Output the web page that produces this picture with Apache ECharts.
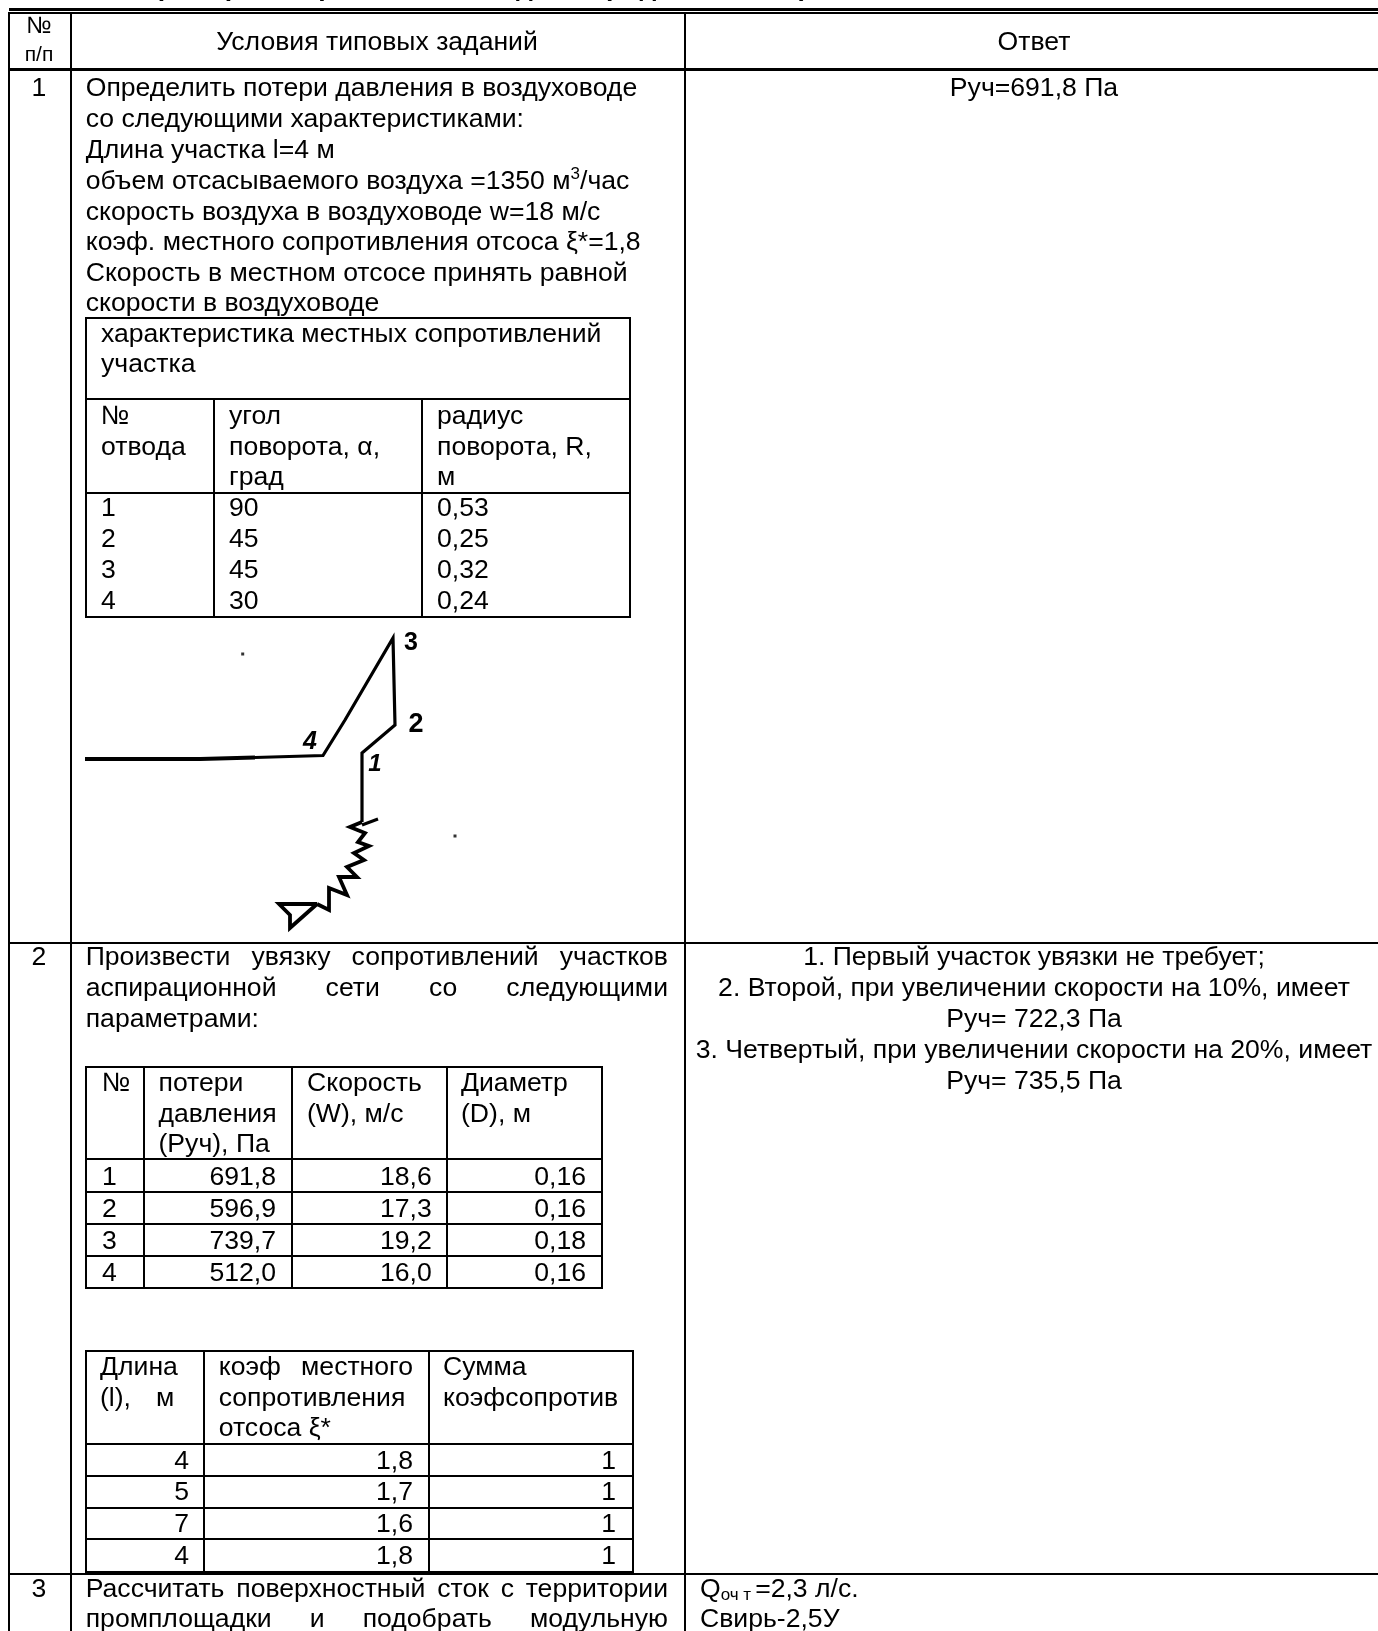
<!DOCTYPE html>
<html><head><meta charset="utf-8">
<style>html,body{margin:0;padding:0;background:#fff;overflow:hidden}#c{width:1378px;height:1631px}</style>
<script src="https://cdn.jsdelivr.net/npm/echarts@6/dist/echarts.min.js"></script>
</head><body><div id="c"></div>
<script>
// ---------- content ----------
const titleText = 'Типовые примерные практические задания (задачи, кейсы)';
const headers = ['Условия типовых заданий', 'Ответ'];
const task1Lines = ['Определить потери давления в воздуховоде','со следующими характеристиками:','Длина участка l=4 м',
  'объем отсасываемого воздуха =1350 м','скорость воздуха в воздуховоде w=18 м/с','коэф. местного сопротивления отсоса ξ*=1,8',
  'Скорость в местном отсосе принять равной','скорости в воздуховоде'];
const bendCaption = ['характеристика местных сопротивлений','участка'];
const bendHead = [['№','отвода'],['угол','поворота, α,','град'],['радиус','поворота, R,','м']];
const bendNo = ['1','2','3','4'];
const bendAngle = ['90','45','45','30'];
const bendRadius = ['0,53','0,25','0,32','0,24'];
const answer1 = 'Руч=691,8 Па';
const task2Lines = ['Произвести увязку сопротивлений участков','аспирационной сети со следующими','параметрами:'];
const lossHead = [['№'],['потери','давления','(Руч), Па'],['Скорость','(W), м/с'],['Диаметр','(D), м']];
const lossNo = ['1','2','3','4'];
const lossP = ['691,8','596,9','739,7','512,0'];
const lossW = ['18,6','17,3','19,2','16,0'];
const lossD = ['0,16','0,16','0,18','0,16'];
const coefHead2 = ['сопротивления','отсоса ξ*'];
const coefHead3 = ['Сумма','коэфсопротив'];
const coefL = ['4','5','7','4'];
const coefK = ['1,8','1,7','1,6','1,8'];
const coefS = ['1','1','1','1'];
const answer2 = ['1. Первый участок увязки не требует;','2. Второй, при увеличении скорости на 10%, имеет','Руч= 722,3 Па','3. Четвертый, при увеличении скорости на 20%, имеет','Руч= 735,5 Па'];
const task3Lines = ['Рассчитать поверхностный сток с территории','промплощадки и подобрать модульную'];
// sketch traces, in page units
const sketchDuct = [[85,759],[200,759],[255,757.5],[323,755.5],[345,720],[393,638],[395,725],[362,753],[362,822]];
const sketchSpring = [[362,822],[350,827],[365,833],[358,842],[369,846],[354,853],[364,860],[347,867],[357,877],[339,877],[347,895],[329,888],[329,910],[317,904]];
const sketchTick = [[362,825],[378,819]];
const sketchNozzle = [[317,904],[279,904],[290,915],[290,928],[317,904]];
const specks = [[242.7,654],[455,836]];

// ---------- layout ----------
const FS = 26.6, ff = '"Liberation Sans",Arial,sans-serif';
const mctx = document.createElement('canvas').getContext('2d');
const tw = (s,size,weight) => { mctx.font = (weight||'normal')+' '+size+'px '+ff; return mctx.measureText(s).width; };
const texts = [], rules = [];
const T = (x,b,s,o) => texts.push(Object.assign({x,b,s,size:FS,align:'left',weight:'normal',italic:false},o||{}));
const H = (x1,x2,y,w) => rules.push([x1,y-w/2,x2,y+w/2]);
const V = (x,y1,y2,w) => rules.push([x-w/2,y1,x+w/2,y2]);
const just = (s,x1,x2,b) => { const ws=s.split(' '); const tot=ws.reduce((a,w)=>a+tw(w,FS),0); const gap=(x2-x1-tot)/(ws.length-1); let x=x1; ws.forEach(w=>{T(x,b,w);x+=tw(w,FS)+gap;}); };
const boxGrid = (xs,ys,w) => { ys.forEach(y=>H(xs[0]-w/2,xs[xs.length-1]+w/2,y,w)); xs.forEach(x=>V(x,ys[0],ys[ys.length-1],w)); };

// outer table
const X0=9, X1=70.5, X2=684.5, XR=1378, CA=1034, CN=39, TX=85.7;
H(X0,XR,9.5,2.5); H(X0,XR,12.5,1.6);
H(X0,XR,70,3.4); H(X0,XR,943,1.9); H(X0,XR,1573.5,1.9);
[X0,X1,X2].forEach(x=>V(x,12,1631,1.9));
T(603-tw(titleText.slice(0,titleText.indexOf('(')),26.6,'bold'),-3.5,titleText,{size:26.6,weight:'bold'});
T(CN,34,'№',{align:'center',size:23.6}); T(CN,62,'п/п',{align:'center',size:21});
T(377,51,headers[0],{align:'center'}); T(CA,50.5,headers[1],{align:'center'});
T(CN,97,'1',{align:'center'});
const base1=[97,128,158.5,189.5,220.5,250.5,281.5,312];
task1Lines.forEach((s,i)=>T(TX,base1[i],s));
{ const x=TX+tw(task1Lines[3],FS); T(x,180,'3',{size:17}); T(x+tw('3',17),189.5,'/час'); }
T(CA,97,answer1,{align:'center'});
// bends table
boxGrid([86,630],[318,399],2); boxGrid([86,214,421.6,630],[399,492.7,616.7],2);
bendCaption.forEach((s,i)=>T(101,[342.7,373][i],s));
const bX=[101,229,437], bHB=[425,456,486], bB=[517,548,579,610];
bendHead.forEach((c,j)=>c.forEach((s,i)=>T(bX[j],bHB[i],s)));
[bendNo,bendAngle,bendRadius].forEach((c,j)=>c.forEach((s,i)=>T(bX[j],bB[i],s)));
// sketch labels
T(411,651,'3',{size:25,weight:'bold',align:'center'});
T(416,733,'2',{size:27,weight:'bold',align:'center'});
T(375,772,'1',{size:24,weight:'bold',italic:true,align:'center'});
T(310,750,'4',{size:25,weight:'bold',italic:true,align:'center'});
// row 2
T(CN,966,'2',{align:'center'});
const base2=[966,997,1028];
just(task2Lines[0],TX,668,base2[0]); just(task2Lines[1],TX,668,base2[1]); T(TX,base2[2],task2Lines[2]);
const aB=[966,997,1028,1059,1090];
answer2.forEach((s,i)=>T(CA,aB[i],s,{align:'center'}));
boxGrid([85.7,144,292,447,602],[1066.7,1159.3,1191.7,1224,1255.7,1287.7],2);
const lX=[102,158.5,307,461], lHB=[1092,1123,1153];
lossHead.forEach((c,j)=>c.forEach((s,i)=>T(lX[j],lHB[i],s)));
const lB=[1186,1218,1250,1282];
lossNo.forEach((s,i)=>T(102,lB[i],s));
lossP.forEach((s,i)=>T(276,lB[i],s,{align:'right'}));
lossW.forEach((s,i)=>T(431.7,lB[i],s,{align:'right'}));
lossD.forEach((s,i)=>T(586,lB[i],s,{align:'right'}));
boxGrid([85.7,204,429,633],[1351,1444,1475.7,1507.7,1539,1571.7],2);
T(100,1376,'Длина'); T(100,1407,'(l),'); T(156,1407,'м');
just('коэф местного',218.7,413,1376);
T(218.7,1407,coefHead2[0]); T(218.7,1437,coefHead2[1]);
T(443,1376,coefHead3[0]); T(443,1407,coefHead3[1]);
const cB=[1470,1501,1533,1565];
coefL.forEach((s,i)=>T(189,cB[i],s,{align:'right'}));
coefK.forEach((s,i)=>T(413,cB[i],s,{align:'right'}));
coefS.forEach((s,i)=>T(616,cB[i],s,{align:'right'}));
// row 3
T(CN,1598,'3',{align:'center'});
just(task3Lines[0],TX,668,1598); just(task3Lines[1],TX,668,1628);
{ let x=700; T(x,1598,'Q'); x+=tw('Q',FS); T(x,1601,'оч т',{size:17}); x+=tw('оч т',17)+4; T(x,1598,'=2,3 л/с.'); }
T(700,1628,'Свирь-2,5У');

const lineSeries = (data,width) => ({type:'line',data:data,showSymbol:false,symbol:'none',silent:true,animation:false,
  lineStyle:{color:'#000',width,join:'miter'},clip:true});

const chart = echarts.init(document.getElementById('c'),null,{renderer:'canvas',width:1378,height:1631});
chart.setOption({
  animation:false, backgroundColor:'#fff', tooltip:{show:false},
  grid:{left:0,right:0,top:0,bottom:0,containLabel:false},
  xAxis:{type:'value',min:0,max:1378,show:false},
  yAxis:{type:'value',min:0,max:1631,inverse:true,show:false},
  series:[
    {type:'custom',silent:true,clip:false,data:rules,coordinateSystem:'cartesian2d',encode:{x:[0,2],y:[1,3]},
     renderItem:(p,api)=>{const a=api.coord([api.value(0),api.value(1)]),b=api.coord([api.value(2),api.value(3)]);
       const x=Math.round(a[0]),y=Math.round(a[1]);
       return {type:'rect',shape:{x,y,width:Math.max(1,Math.round(b[0]-a[0])),height:Math.max(1,Math.round(b[1]-a[1]))},style:{fill:'#000'}};}},
    lineSeries(sketchDuct.slice(0,3),4.2),
    lineSeries(sketchDuct.slice(2),3.2),
    lineSeries(sketchSpring,3.8),
    lineSeries(sketchTick,3),
    lineSeries(sketchNozzle,3.8),
    {type:'scatter',data:specks,symbol:'rect',symbolSize:3,silent:true,itemStyle:{color:'#000'}},
    {type:'custom',silent:true,clip:true,data:texts.map(t=>[t.x,t.b]),encode:{x:0,y:1},
     renderItem:(p,api)=>{const t=texts[p.dataIndex];const c=api.coord([t.x,t.b]);
       return {type:'text',x:c[0],y:c[1]-0.31*t.size,style:{text:t.s,fill:'#000',align:t.align,verticalAlign:'middle',
         font:(t.italic?'italic ':'')+t.weight+' '+t.size+'px '+ff}};}}
  ]
});
</script></body></html>
